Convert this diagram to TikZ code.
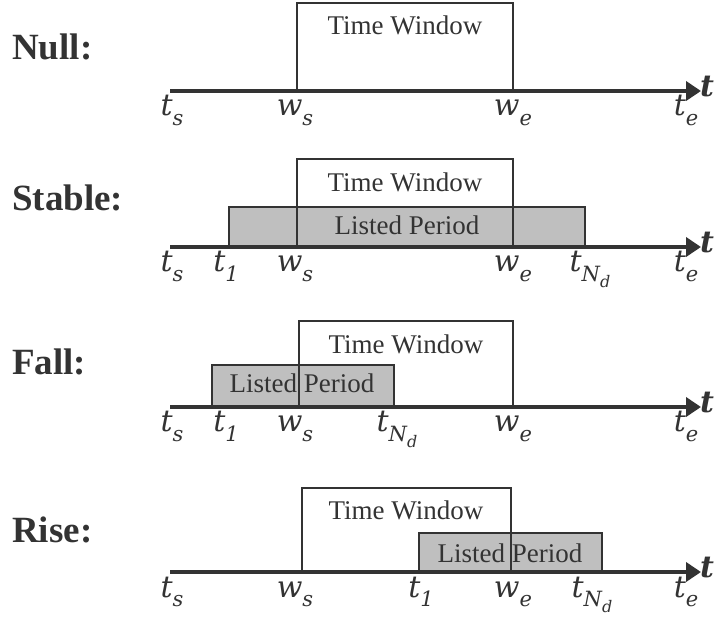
\documentclass[tikz,border=0pt]{standalone}
\usepackage{fontspec}
\setmainfont{Liberation Serif}
\newfontfamily\labfont{DejaVu Serif}
\usetikzlibrary{arrows.meta}
\definecolor{ink}{HTML}{333333}
\definecolor{lpfill}{HTML}{BFBFBF}
\newcommand{\subA}[1]{\raisebox{-0.32em}{\fontsize{21}{22}\selectfont #1}}
\newcommand{\subB}[1]{\raisebox{-0.28em}{\fontsize{16}{17}\selectfont #1}}
\tikzset{
  axisline/.style={draw=ink, line width=4.5pt, -{Triangle[length=15pt,width=19pt]}},
  twbox/.style={draw=ink, line width=1.4pt},
  lpbox/.style={draw=ink, fill=lpfill, line width=1.9pt},
  rowlabel/.style={anchor=base west, inner sep=0pt, text=ink, font=\fontsize{37}{40}\selectfont\bfseries},
  boxtext/.style={anchor=base, inner sep=0pt, text=ink, font=\fontsize{27}{30}\selectfont},
  ticklabel/.style={anchor=base, inner sep=0pt, text=ink, font=\labfont\itshape\fontsize{30}{32}\selectfont},
  tlabel/.style={anchor=west, inner sep=0pt, text=ink, font=\labfont\bfseries\itshape\fontsize{30}{32}\selectfont},
}
\begin{document}
\begin{tikzpicture}[x=1pt,y=-1pt]
\useasboundingbox (0,0) rectangle (718,617);

% ---------- Null ----------
\node[rowlabel] (lnull) at (12,60) {Null:};
\draw[twbox] (297,91) rectangle (513,3);
\node[boxtext] (twnull) at (405,35) {Time Window};
\coordinate (a0) at (170,91);
\coordinate (a1) at (701,91);
\draw[axisline] (a0) -- (a1);
\node[tlabel] (tnull) at (700,87) {t};
\node[ticklabel] (tsnull) at (172,116) {t\subA{s}};
\node[ticklabel] (wsnull) at (295,116) {w\subA{s}};
\node[ticklabel] (wenull) at (513,116) {w\subA{e}};
\node[ticklabel] (tenull) at (686,116) {t\subA{e}};

% ---------- Stable ----------
\node[rowlabel] (lstable) at (12,211) {Stable:};
\draw[lpbox] (229,247) rectangle (585,207);
\draw[twbox] (297,247) rectangle (513,159);
\node[boxtext] (twstable) at (405,192) {Time Window};
\node[boxtext] (lpstable) at (407,235) {Listed Period};
\coordinate (b0) at (170,247);
\coordinate (b1) at (701,247);
\draw[axisline] (b0) -- (b1);
\node[tlabel] (tstable) at (700,243) {t};
\node[ticklabel] (tsstable) at (172,272) {t\subA{s}};
\node[ticklabel] (t1stable) at (226,272) {t\subA{1}};
\node[ticklabel] (wsstable) at (295,272) {w\subA{s}};
\node[ticklabel] (westable) at (513,272) {w\subA{e}};
\node[ticklabel] (tndstable) at (590,272) {t\subA{N\subB{d}}};
\node[ticklabel] (testable) at (686,272) {t\subA{e}};

% ---------- Fall ----------
\node[rowlabel] (lfall) at (12,375) {Fall:};
\draw[lpbox] (212,407) rectangle (394,365);
\draw[twbox] (299,407) rectangle (513,321);
\node[boxtext] (twfall) at (406,354) {Time Window};
\node[boxtext] (lpfall) at (302,393) {Listed Period};
\coordinate (c0) at (170,407);
\coordinate (c1) at (701,407);
\draw[axisline] (c0) -- (c1);
\node[tlabel] (tfall) at (700,403) {t};
\node[ticklabel] (tsfall) at (172,432) {t\subA{s}};
\node[ticklabel] (t1fall) at (226,432) {t\subA{1}};
\node[ticklabel] (wsfall) at (295,432) {w\subA{s}};
\node[ticklabel] (tndfall) at (397,432) {t\subA{N\subB{d}}};
\node[ticklabel] (wefall) at (513,432) {w\subA{e}};
\node[ticklabel] (tefall) at (686,432) {t\subA{e}};

% ---------- Rise ----------
\node[rowlabel] (lrise) at (12,542) {Rise:};
\draw[lpbox] (419,572) rectangle (602,533);
\draw[twbox] (302,572) rectangle (511,488);
\node[boxtext] (twrise) at (406,520) {Time Window};
\node[boxtext] (lprise) at (510,562) {Listed Period};
\coordinate (d0) at (170,572);
\coordinate (d1) at (701,572);
\draw[axisline] (d0) -- (d1);
\node[tlabel] (trise) at (700,568) {t};
\node[ticklabel] (tsrise) at (172,597) {t\subA{s}};
\node[ticklabel] (wsrise) at (295,597) {w\subA{s}};
\node[ticklabel] (t1rise) at (421,597) {t\subA{1}};
\node[ticklabel] (werise) at (513,597) {w\subA{e}};
\node[ticklabel] (tndrise) at (592,597) {t\subA{N\subB{d}}};
\node[ticklabel] (terise) at (686,597) {t\subA{e}};
\end{tikzpicture}
\end{document}
